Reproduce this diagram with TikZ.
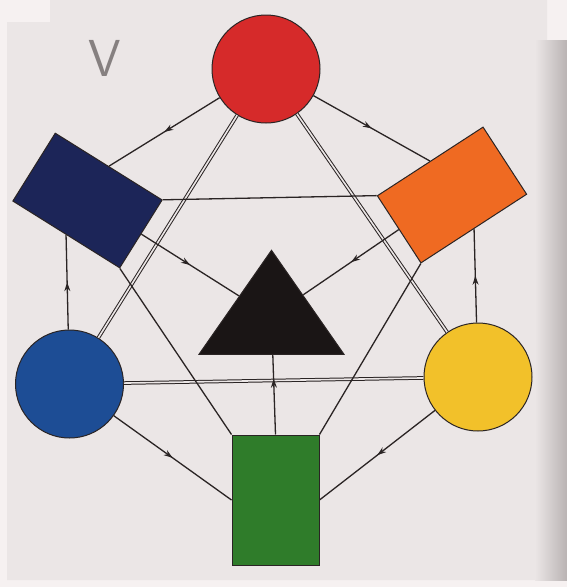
\documentclass[tikz,border=0pt]{standalone}
\usetikzlibrary{shapes.geometric,decorations.markings,arrows.meta}
\definecolor{pagebg}{HTML}{EBE6E6}
\definecolor{paperwhite}{HTML}{F6F1F1}
\definecolor{shadowgray}{HTML}{B9B3B3}
\definecolor{linec}{HTML}{2A2424}
\definecolor{cred}{HTML}{D62A2A}
\definecolor{cnavy}{HTML}{1C2558}
\definecolor{corange}{HTML}{EF6A22}
\definecolor{cblack}{HTML}{1A1515}
\definecolor{cblue}{HTML}{1D4D95}
\definecolor{cyellow}{HTML}{F2C12A}
\definecolor{cgreen}{HTML}{2F7C2A}
\definecolor{pencil}{HTML}{868080}
\begin{document}
\begin{tikzpicture}[x=1pt,y=-1pt,
  outl/.style={draw=linec, line width=1pt},
  disc/.style={outl, circle, minimum size=108pt, inner sep=0pt},
  card/.style={outl, rectangle, minimum width=126pt, minimum height=80pt, inner sep=0pt},
  conn/.style={draw=linec, line width=1.3pt},
  dbl/.style={draw=linec, line width=1pt, double=pagebg, double distance=1.6pt},
  midarrow/.style={postaction={decorate}, decoration={markings,
      mark=at position #1 with {\arrow[linec]{Stealth[length=9pt,width=6pt]}}}},
  midarrow/.default=0.5]
\useasboundingbox (0,0) rectangle (567,587);
% paper
\fill[paperwhite] (0,0) rectangle (567,587);
\fill[pagebg] (50,0) -- (547,0) -- (547,40) -- (567,40) -- (567,580) -- (7,580) -- (7,22) -- (50,22) -- cycle;
\shade[left color=pagebg, right color=shadowgray] (535,40) rectangle (567,580);
% handwritten mark
\node[text=pencil, font=\sffamily\fontsize{52}{52}\selectfont, inner sep=0pt] (mark) at (105,58) {V};
% shapes
\node[disc, fill=cred] (red) at (266,69) {};
\node[disc, fill=cblue] (blue) at (69.5,384) {};
\node[disc, fill=cyellow] (yellow) at (478,377) {};
\node[card, fill=cnavy, rotate=-32] (navy) at (87.5,200.5) {};
\node[card, fill=corange, rotate=33] (orange) at (452,195) {};
\node[outl, rectangle, fill=cgreen, minimum width=87pt, minimum height=130pt, inner sep=0pt] (green) at (275.5,500) {};
\node[outl, fill=cblack, isosceles triangle, isosceles triangle stretches, shape border rotate=90,
      minimum width=145pt, minimum height=104pt, inner sep=0pt, anchor=apex] (tri) at (271.5,249) {};
% double lines
\draw[dbl] (red) -- (blue);
\draw[dbl] (red) -- (yellow);
\draw[dbl] (blue) -- (yellow);
% plain lines
\draw[conn] (navy.north east) -- (orange.north west);
\draw[conn] (navy.south east) -- (green.north west);
\draw[conn] (orange.south west) -- (green.north east);
% arrowed lines
\draw[conn, midarrow] (red) -- (navy.north);
\draw[conn, midarrow] (red) -- (orange.north);
\draw[conn, midarrow] (navy.east) -- (tri);
\draw[conn, midarrow] (orange.west) -- (tri);
\draw[conn, midarrow] (blue) -- (navy.south);
\draw[conn, midarrow] (yellow) -- (orange.south);
\draw[conn, midarrow=0.7] (green.north) -- (tri);
\draw[conn, midarrow] (blue) -- (green.west);
\draw[conn, midarrow] (yellow) -- (green.east);
\end{tikzpicture}
\end{document}
